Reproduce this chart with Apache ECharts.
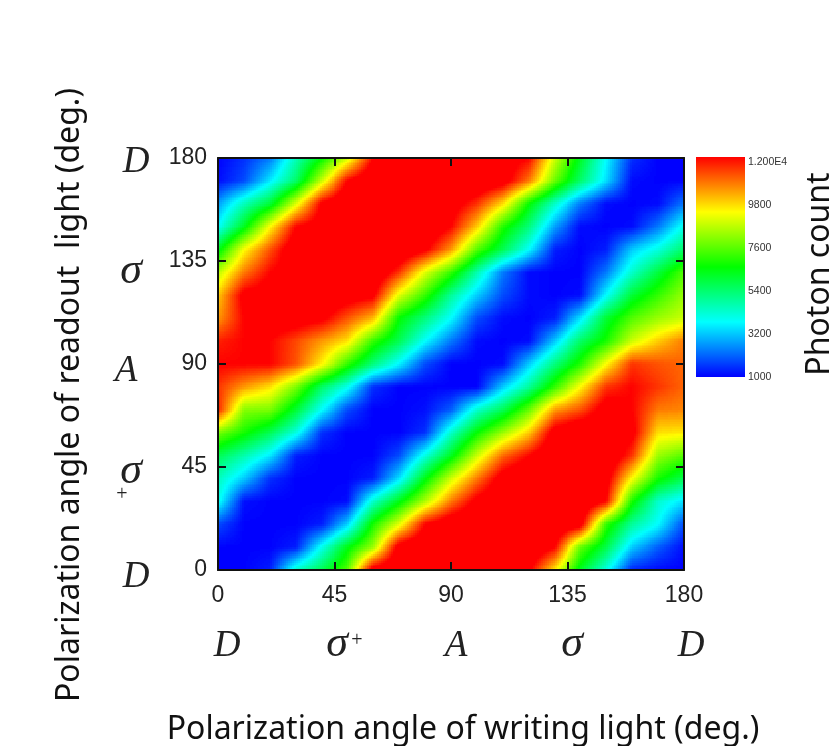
<!DOCTYPE html>
<html>
<head>
<meta charset="utf-8">
<style>html,body{margin:0;padding:0;background:#fff}#c{width:834px;height:746px}</style>
<script src="https://cdn.jsdelivr.net/npm/echarts@6/dist/echarts.min.js"></script>
</head>
<body>
<div id="c"></div>
<script>
var writingAngles = [0,10,20,30,40,50,60,70,80,90,100,110,120,130,140,150,160,170,180];
var readoutAngles = [0,10,20,30,40,50,60,70,80,90,100,110,120,130,140,150,160,170,180];
var axisTicks = [0,45,90,135,180];
var stateLabels = ['D','σ','A','σ','D'];
var colorbarTicks = [1000,3200,5400,7600,9800,12000];
var colorbarText = ['1000','3200','5400','7600','9800','1.200E4'];
var rainbow = ['#0000ff','#00ffff','#00ff00','#ffff00','#ff0000'];

var read0   = [1000,1000,1300,4300,5620,7380,12550,13100,13100,13100,13100,13100,12220,9470,6170,4080,1400,1100,1000];
var read10  = [1000,1000,1000,1300,3970,6280,8150,12550,13100,13100,13100,13100,13100,12000,7600,5730,3200,2000,1100];
var read20  = [1800,1000,1000,1000,1300,3200,6720,8920,12000,12880,13100,13100,13100,13100,12550,7050,4850,3750,1800];
var read30  = [4000,1150,1000,1000,1000,1100,4300,6280,8370,10680,12330,13100,13100,13100,13100,12000,6720,4300,3420];
var read40  = [4500,3200,1500,1000,1000,1000,1300,3420,6280,8700,10680,12550,13100,13100,13100,12550,9250,6720,5620];
var read50  = [5620,4630,3530,1300,1000,1000,1000,1800,4080,6170,8700,10900,12000,13100,13100,13100,11450,8150,7380];
var read60  = [7820,6720,5620,4080,1500,1000,1000,1000,1500,4300,6500,8150,9800,12550,13100,12550,12330,9580,9470];
var read70  = [11670,7930,7820,5950,3750,1800,1000,1000,1150,2000,4300,5620,7600,10350,11120,12550,12000,10680,10570];
var read80  = [11450,10350,9580,7820,5400,3970,1500,1000,1000,1000,1000,3200,4850,7050,9250,11450,12000,11450,10900];
var read90  = [12000,12000,12000,11120,9360,7050,5180,3640,1800,1000,1000,1100,3200,5180,6830,9250,11450,11120,10900];
var read100 = [11670,12000,12000,11230,10350,9580,7050,5620,3750,2300,1100,1000,1100,3200,5400,6720,8700,9800,10680];
var read110 = [10350,12000,12550,12550,12220,11120,10020,6500,5180,3750,1800,1100,1000,1300,3420,5950,7380,8150,8700];
var read120 = [9800,12330,12550,13100,13100,12550,12220,8920,7050,4850,3200,1800,1100,1000,1100,3750,5950,7050,8150];
var read130 = [8480,10680,12000,12550,13100,13100,13100,11450,8920,7050,4630,2300,1100,1000,1000,2300,4300,5840,7380];
var read140 = [6170,9250,11120,12880,13100,13100,13100,13100,12220,10350,7380,5620,3750,1300,1000,1300,3200,4080,5400];
var read150 = [3750,6170,9250,12000,12550,13100,13100,13100,13100,12000,9800,6830,5180,2700,1100,1000,1100,2300,3970];
var read160 = [2700,4520,5950,8920,12220,13100,13100,13100,13100,12550,11450,9580,6500,4300,2300,1100,1000,1100,2300];
var read170 = [1100,1800,3530,5400,8700,12000,13100,13100,13100,13100,13100,12550,10680,7600,5400,3420,1100,1000,1000];
var read180 = [1000,1500,2300,4520,6500,8700,12000,13100,13100,13100,13100,12550,12000,8700,6170,3750,1500,1000,1000];
var photonCounts = [read0,read10,read20,read30,read40,read50,read60,read70,read80,read90,read100,read110,read120,read130,read140,read150,read160,read170,read180];

var vMin = 1000, vMax = 12000;
var chart = echarts.init(document.getElementById('c'), null, {renderer:'canvas'});

var palette = [];
for (var i = 0; i <= 255; i++) palette.push(echarts.color.lerp(i / 255, rainbow));
function colorOf(v) {
  var t = Math.max(0, Math.min(1, (v - vMin) / (vMax - vMin)));
  return palette[Math.round(t * 255)];
}

var nodes = [];
readoutAngles.forEach(function (ry, r) {
  writingAngles.forEach(function (wx, c) { nodes.push([wx, ry, photonCounts[r][c], c, r]); });
});

var SUB = 13;
function renderCell(params, api) {
  var c = api.value(3), r = api.value(4);
  if (c >= writingAngles.length - 1 || r >= readoutAngles.length - 1) return null;
  var v00 = photonCounts[r][c], v10 = photonCounts[r][c + 1];
  var v01 = photonCounts[r + 1][c], v11 = photonCounts[r + 1][c + 1];
  var p0 = api.coord([writingAngles[c], readoutAngles[r]]);
  var p1 = api.coord([writingAngles[c + 1], readoutAngles[r + 1]]);
  var kids = [];
  for (var j = 0; j < SUB; j++) {
    var y0 = Math.round(p0[1] + (p1[1] - p0[1]) * j / SUB);
    var y1 = Math.round(p0[1] + (p1[1] - p0[1]) * (j + 1) / SUB);
    if (y0 === y1) continue;
    var fy = (j + 0.5) / SUB;
    var runX = null, runColor = null, lastX = null;
    for (var i = 0; i < SUB; i++) {
      var x0 = Math.round(p0[0] + (p1[0] - p0[0]) * i / SUB);
      var x1 = Math.round(p0[0] + (p1[0] - p0[0]) * (i + 1) / SUB);
      var fx = (i + 0.5) / SUB;
      var v = v00 * (1 - fx) * (1 - fy) + v10 * fx * (1 - fy) + v01 * (1 - fx) * fy + v11 * fx * fy;
      var col = colorOf(v);
      if (col !== runColor) {
        if (runColor) kids.push({type:'rect', shape:{x:runX, y:y1, width:x0 - runX, height:y0 - y1}, style:{fill:runColor}, silent:true});
        runColor = col; runX = x0;
      }
      lastX = x1;
    }
    kids.push({type:'rect', shape:{x:runX, y:y1, width:lastX - runX, height:y0 - y1}, style:{fill:runColor}, silent:true});
  }
  return {type:'group', children:kids};
}

var serif = '"Liberation Serif", serif';
var tickFont = '"Liberation Sans", sans-serif';
function stateText(text, x, y) {
  var size = text === 'σ' ? 44 : 37;
  return {type:'text', x:x, y:y, silent:true, style:{text:text, font:'italic ' + size + 'px ' + serif, fill:'#222', align:'center', verticalAlign:'middle'}};
}
var graphics = [];
[227, 337, 456, 572, 691].forEach(function (x, i) { graphics.push(stateText(stateLabels[i], x, i % 2 && i < 4 ? 644 : 646)); });
graphics.push({type:'text', x:357, y:641, silent:true, style:{text:'+', font:'20px ' + serif, fill:'#222', align:'center', verticalAlign:'middle'}});
[577, 471, 371, 271, 162].forEach(function (y, i) { graphics.push(stateText(stateLabels[i], i === 2 ? 126 : (i % 2 ? 131 : 136), y)); });
graphics.push({type:'text', x:122, y:495, silent:true, style:{text:'+', font:'20px ' + serif, fill:'#222', align:'center', verticalAlign:'middle'}});
graphics.push({type:'rect', x:696, y:157, shape:{x:0, y:0, width:49, height:220}, silent:true,
  style:{fill:new echarts.graphic.LinearGradient(0, 1, 0, 0, rainbow.map(function (c, i) { return {offset:i / (rainbow.length - 1), color:c}; }))}});
colorbarTicks.forEach(function (v, i) {
  graphics.push({type:'text', x:748, y:377 - (v - vMin) / (vMax - vMin) * 215, silent:true,
    style:{text:colorbarText[i], font:'10.5px ' + tickFont, fill:'#333', align:'left', verticalAlign:'middle'}});
});
graphics.push({type:'text', x:820, y:274, rotation:Math.PI / 2, silent:true,
  style:{text:'Photon count', font:'32px "Noto Sans", sans-serif', fill:'#111', align:'center', verticalAlign:'middle'}});

function mainAxis(pos, name, extra) {
  var a = {
    type:'value', position:pos, min:0, max:180, interval:45, z:5,
    axisLine:{show:true, onZero:false, lineStyle:{color:'#111', width:2}},
    axisTick:{show:true, inside:true, length:8, lineStyle:{color:'#111', width:2}},
    splitLine:{show:false},
    axisLabel:{show:!!name, color:'#222', fontFamily:tickFont, fontSize:23, margin:pos === 'bottom' ? 14 : 11, padding:pos === 'left' ? [4,0,0,0] : 0, customValues:axisTicks, hideOverlap:false}
  };
  if (name) {
    a.name = name; a.nameLocation = 'middle';
  }
  return Object.assign(a, extra || {});
}

chart.setOption({
  animation:false,
  backgroundColor:'#fff',
  grid:{left:218, top:158, width:466, height:412, containLabel:false, show:false, outerBoundsMode:'none'},
  xAxis:[
    mainAxis('bottom','Polarization angle of writing light (deg.)',{nameGap:144, nameTextStyle:{color:'#111', fontFamily:'"Noto Sans", sans-serif', fontSize:32, padding:[0,0,0,24]}}),
    mainAxis('top',null)
  ],
  yAxis:[
    mainAxis('left','Polarization angle of readout  light (deg.)',{nameGap:132, nameTextStyle:{color:'#111', fontFamily:'"Noto Sans", sans-serif', fontSize:32, padding:[0,62,0,0]}}),
    mainAxis('right',null)
  ],
  series:[{
    type:'custom', coordinateSystem:'cartesian2d', data:nodes, encode:{x:0, y:1},
    renderItem:renderCell, silent:true, z:2, progressive:0, animation:false, clip:true
  }],
  graphic:{elements:graphics}
});
</script>
</body>
</html>
